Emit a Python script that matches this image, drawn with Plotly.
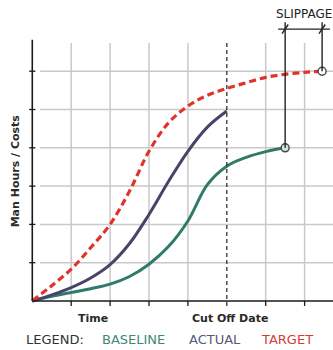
import plotly.graph_objects as go

# Curve samples (time units, cost units)
baseline_x = [0, 0.5, 1, 1.5, 2, 2.5, 3, 3.5, 4, 4.5, 5, 5.5, 6, 6.5]
baseline_y = [0, 0.12, 0.22, 0.32, 0.44, 0.64, 0.96, 1.42, 2.09, 3.04, 3.52, 3.75, 3.9, 4.0]
actual_x = [0, 0.5, 1, 1.5, 2, 2.5, 3, 3.5, 4, 4.5, 5]
actual_y = [0, 0.16, 0.35, 0.6, 0.95, 1.5, 2.26, 3.12, 3.91, 4.54, 4.96]
target_x = [0, 0.5, 1, 1.5, 2, 2.5, 3, 3.5, 4, 4.5, 5, 5.5, 6, 6.5, 7, 7.45]
target_y = [0, 0.4, 0.83, 1.39, 2.0, 2.87, 3.91, 4.65, 5.09, 5.37, 5.55, 5.7, 5.84, 5.92, 5.97, 6.0]

grid_x = [1, 2, 3, 4, 6, 7]
grid_y = [1, 2, 3, 4, 5, 6]
cutoff_x = 5
slip_start = (6.5, 4.0)
slip_end = (7.45, 6.0)
slip_bar_y = 7.1
slip_top = 7.28

legend_items = [("LEGEND:", "#333333"), ("BASELINE", "#3f8878"),
                ("ACTUAL", "#585878"), ("TARGET", "#d83c38")]
legend_x = [0.58, 2.61, 4.70, 6.56]

GRID = "#c9c9c9"
AXIS = "#1a1a1a"
FONT = "DejaVu Sans"

fig = go.Figure()

shapes = []
for gx in grid_x:
    shapes.append(dict(type="line", x0=gx, x1=gx, y0=0, y1=6.74,
                       line=dict(color=GRID, width=1.5), layer="below"))
    shapes.append(dict(type="line", x0=gx, x1=gx, y0=0, y1=-0.13,
                       line=dict(color=AXIS, width=1.3)))
for gy in grid_y:
    shapes.append(dict(type="line", x0=0.2, x1=7.8, y0=gy, y1=gy,
                       line=dict(color=GRID, width=1.5), layer="below"))
    shapes.append(dict(type="line", x0=-0.08, x1=0.08, y0=gy, y1=gy,
                       line=dict(color=AXIS, width=1.3)))
# cut-off date
shapes.append(dict(type="line", x0=cutoff_x, x1=cutoff_x, y0=-0.13, y1=6.74,
                   line=dict(color="#333333", width=1.3, dash="4px,3px")))
# axes
shapes.append(dict(type="line", x0=0, x1=0, y0=0, y1=6.82,
                   line=dict(color=AXIS, width=1.6)))
shapes.append(dict(type="line", x0=0, x1=7.8, y0=0, y1=0,
                   line=dict(color=AXIS, width=1.6)))
# slippage bracket
for sx, sy in (slip_start, slip_end):
    shapes.append(dict(type="line", x0=sx, x1=sx, y0=sy, y1=slip_top,
                       line=dict(color="#222222", width=1.4)))
    shapes.append(dict(type="line", x0=sx - 0.08, x1=sx + 0.08,
                       y0=slip_bar_y - 0.12, y1=slip_bar_y + 0.12,
                       line=dict(color="#222222", width=1.4)))
shapes.append(dict(type="line", x0=6.32, x1=7.65, y0=slip_bar_y, y1=slip_bar_y,
                   line=dict(color="#222222", width=1.4)))

fig.add_trace(go.Scatter(x=baseline_x, y=baseline_y, mode="lines",
                         line=dict(color="#2f7a68", width=3, shape="spline", smoothing=1.0)))
fig.add_trace(go.Scatter(x=actual_x, y=actual_y, mode="lines",
                         line=dict(color="#45456a", width=3, shape="spline", smoothing=1.0)))
fig.add_trace(go.Scatter(x=target_x, y=target_y, mode="lines",
                         line=dict(color="#e0332c", width=3.2, dash="7px,4px",
                                   shape="spline", smoothing=1.0)))
fig.add_trace(go.Scatter(x=[slip_start[0], slip_end[0]], y=[slip_start[1], slip_end[1]],
                         mode="markers",
                         marker=dict(size=8, color=["#cfe3dc", "#ffffff"],
                                     line=dict(color="#444444", width=1.4))))

annotations = [
    dict(x=-0.43, y=3.4, text="<b>Man Hours / Costs</b>", textangle=-90,
         font=dict(size=11, color="#2a2a2a", family=FONT)),
    dict(x=1.56, y=-0.47, text="<b>Time</b>", font=dict(size=11, color="#2a2a2a", family=FONT)),
    dict(x=5.08, y=-0.47, text="<b>Cut Off Date</b>", font=dict(size=11, color="#2a2a2a", family=FONT)),
    dict(x=6.98, y=7.5, text="SLIPPAGE", font=dict(size=12, color="#222222", family=FONT)),
]
for (label, col), lx in zip(legend_items, legend_x):
    annotations.append(dict(x=lx, y=-1.0, text=label, font=dict(size=13, color=col, family=FONT)))
for a in annotations:
    a.update(xref="x", yref="y", showarrow=False)

fig.update_layout(
    width=333, height=350, margin=dict(l=0, r=0, t=0, b=0),
    paper_bgcolor="white", plot_bgcolor="white", showlegend=False,
    shapes=shapes, annotations=annotations,
    xaxis=dict(range=[-0.83, 7.73], visible=False, fixedrange=True),
    yaxis=dict(range=[-1.28, 7.86], visible=False, fixedrange=True),
)

fig.write_html("out.html")
